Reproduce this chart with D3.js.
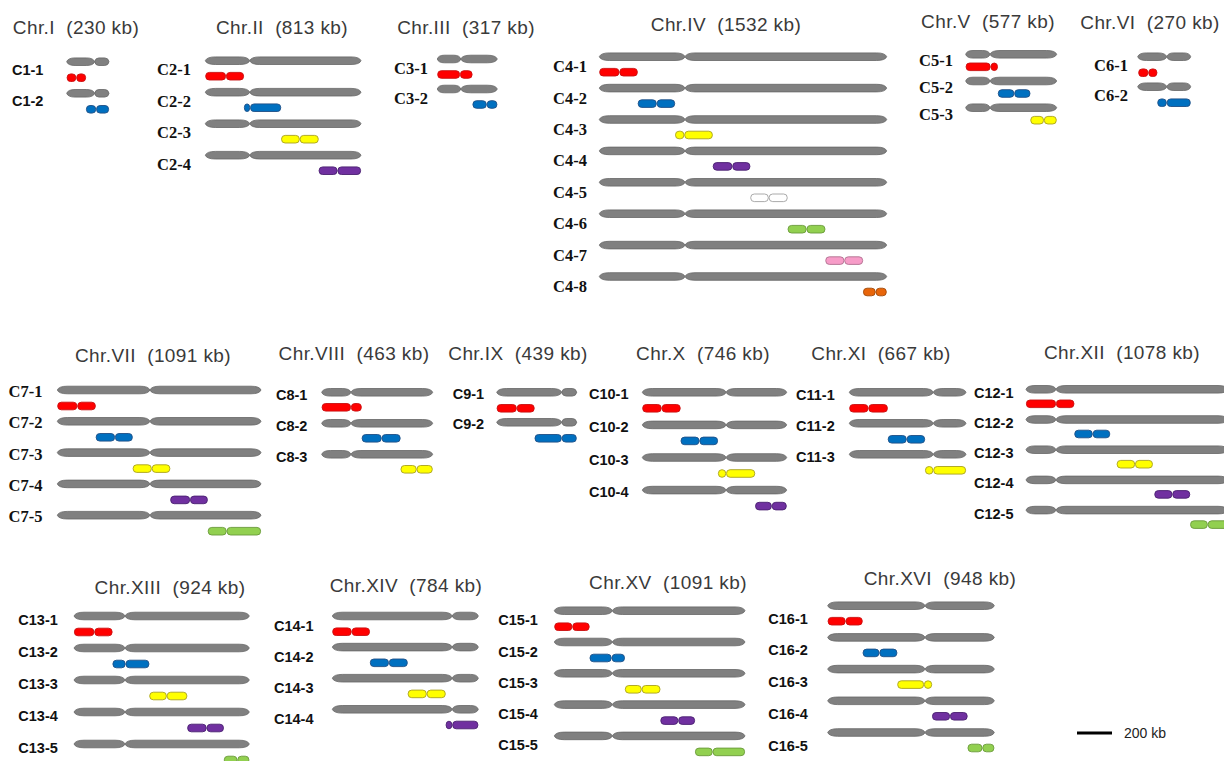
<!DOCTYPE html>
<html>
<head>
<meta charset="utf-8">
<script src="https://cdn.jsdelivr.net/npm/d3@7"></script>
<style>
  body { margin: 0; background: #fff; }
  svg { display: block; }
  .title { font-family: "Liberation Sans", Arial, sans-serif; font-size: 19px; fill: #3a3a3a; white-space: pre; letter-spacing: 0.4px; }
  .lab { font-weight: bold; fill: #111; }
  .lab.sans { font-family: "Liberation Sans", Arial, sans-serif; font-size: 14.5px; }
  .lab.serif { font-family: "Liberation Serif", "Times New Roman", serif; font-size: 16.5px; }
  .bar-text { font-family: "Liberation Sans", Arial, sans-serif; font-size: 14px; fill: #222; }
</style>
</head>
<body>
<div id="chart"></div>
<script>
// chromosome names and sizes (kb)
var chromNames = ["Chr.I", "Chr.II", "Chr.III", "Chr.IV", "Chr.V", "Chr.VI", "Chr.VII", "Chr.VIII",
  "Chr.IX", "Chr.X", "Chr.XI", "Chr.XII", "Chr.XIII", "Chr.XIV", "Chr.XV", "Chr.XVI"];
var chromLengths = [230, 813, 317, 1532, 577, 270, 1091, 463, 439, 746, 667, 1078, 924, 784, 1091, 948];
// centromere positions (kb)
var centromeres = [152, 232, 124, 457, 154, 148, 496, 122, 357, 433, 480, 160, 269, 644, 332, 554];

// fragments (one per strain row), start / end / pinch in kb
var fragStarts = [
  [0, 105], [0, 202, 396, 592], [0, 186], [0, 205, 404, 605, 805, 1004, 1205, 1406],
  [0, 204, 410], [3, 100], [0, 206, 404, 605, 806], [0, 167, 329],
  [0, 208], [0, 198, 391, 583], [0, 220, 433], [0, 258, 484, 685, 876],
  [0, 203, 397, 597, 790], [0, 202, 405, 609], [0, 202, 404, 607, 805], [0, 199, 396, 594, 796]
];
var fragEnds = [
  [105, 230], [202, 396, 592, 813], [186, 317], [205, 404, 605, 805, 1004, 1205, 1406, 1532],
  [204, 410, 577], [100, 270], [206, 404, 605, 806, 1091], [167, 329, 463],
  [208, 439], [198, 391, 583, 746], [220, 433, 667], [258, 449, 677, 876, 1078],
  [203, 397, 597, 790, 924], [202, 405, 609, 784], [202, 404, 607, 805, 1091], [199, 396, 594, 796, 948]
];
var fragPinches = [
  [52, 160], [108, 234, 493, 690], [120, 261], [107, 306, 453, 709, 903, 1105, 1306, 1473],
  [158, 308, 496], [54, 148], [107, 309, 506, 711, 907], [122, 250, 396],
  [110, 357], [100, 295, 433, 669], [109, 328, 480], [160, 356, 582, 781, 970],
  [107, 272, 489, 699, 861], [104, 304, 507, 644], [103, 328, 500, 709, 906], [102, 294, 548, 696, 880]
];
var fragMarkers = [
  ["red", "blue"], ["red", "blue", "yellow", "purple"], ["red", "blue"],
  ["red", "blue", "yellow", "purple", "white", "green", "pink", "orange"],
  ["red", "blue", "yellow"], ["red", "blue"], ["red", "blue", "yellow", "purple", "green"],
  ["red", "blue", "yellow"], ["red", "blue"], ["red", "blue", "yellow", "purple"],
  ["red", "blue", "yellow"], ["red", "blue", "yellow", "purple", "green"],
  ["red", "blue", "yellow", "purple", "green"], ["red", "blue", "yellow", "purple"],
  ["red", "blue", "yellow", "purple", "green"], ["red", "blue", "yellow", "purple", "green"]
];
var scaleBarKb = 200;

// styles
var markerKeys = ["red", "blue", "yellow", "purple", "white", "green", "pink", "orange"];
var markerFill = d3.scaleOrdinal().domain(markerKeys)
  .range(["#ff0000", "#0070c0", "#ffff00", "#7030a0", "#ffffff", "#92d050", "#f79cc8", "#e8650a"]);
var markerStroke = d3.scaleOrdinal().domain(markerKeys)
  .range(["#c81010", "#1f4f86", "#a8a020", "#4a2070", "#a0a0a0", "#6a9a3a", "#b07090", "#a04808"]);

// panel layout (pixels)
var panels = [
  {x0: 66.7, x1: 109, y0: 61.7, dy: 31.6, fdy: 16, lx: 12, ldy: 8, tx: 76, ty: 27, serif: false},
  {x0: 205.3, x1: 361, y0: 60.7, dy: 31.5, fdy: 15.5, lx: 157, ldy: 9, tx: 282, ty: 27, serif: true},
  {x0: 437.3, x1: 497.3, y0: 59, dy: 30, fdy: 15.5, lx: 394, ldy: 9.5, tx: 466, ty: 27, serif: true},
  {x0: 599.3, x1: 886.7, y0: 56.7, dy: 31.4, fdy: 15.5, lx: 553, ldy: 10, tx: 726, ty: 24, serif: true},
  {x0: 965.7, x1: 1056.7, y0: 54.3, dy: 26.7, fdy: 12.5, lx: 919, ldy: 6.5, tx: 988, ty: 21, serif: true},
  {x0: 1137.7, x1: 1190.7, y0: 56.7, dy: 30, fdy: 16, lx: 1094, ldy: 9, tx: 1150, ty: 22, serif: true},
  {x0: 57.3, x1: 261, y0: 390, dy: 31.3, fdy: 16, lx: 8.5, ldy: 1.5, tx: 153, ty: 355, serif: true},
  {x0: 321.7, x1: 432.7, y0: 392.3, dy: 31, fdy: 15, lx: 276, ldy: 3, tx: 354, ty: 353, serif: false},
  {x0: 496.7, x1: 576.7, y0: 392.3, dy: 30, fdy: 16, lx: 452.7, ldy: 1.5, tx: 518, ty: 353, serif: false},
  {x0: 642.3, x1: 786.7, y0: 392.3, dy: 32.6, fdy: 16, lx: 589, ldy: 2, tx: 703, ty: 353, serif: false},
  {x0: 849.3, x1: 966, y0: 392.3, dy: 31, fdy: 16, lx: 796, ldy: 3, tx: 881, ty: 353, serif: false},
  {x0: 1026, x1: 1228, y0: 389.3, dy: 30.2, fdy: 14.5, lx: 974, ldy: 3.5, tx: 1122, ty: 352, serif: false},
  {x0: 74, x1: 249.3, y0: 616, dy: 32, fdy: 16, lx: 18.3, ldy: 4, tx: 170, ty: 587, serif: false},
  {x0: 332.3, x1: 478.3, y0: 616, dy: 31.1, fdy: 15.7, lx: 274, ldy: 9.5, tx: 406, ty: 585, serif: false},
  {x0: 554.3, x1: 745, y0: 610.7, dy: 31.3, fdy: 16, lx: 498.3, ldy: 9.5, tx: 668, ty: 582, serif: false},
  {x0: 827.7, x1: 994.3, y0: 605.7, dy: 31.7, fdy: 15.5, lx: 768.3, ldy: 13, tx: 940, ty: 578, serif: false}
];

var width = 1224, height = 761;
var svg = d3.select("#chart").append("svg")
  .attr("width", width)
  .attr("height", height);
svg.append("rect").attr("width", width).attr("height", height).attr("fill", "#fff");

// one chromosome arm, tapered at both ends
function armPath(a, b, y, h) {
  var r = Math.min(10, (b - a) * 0.3);
  var p = d3.path();
  p.moveTo(a, y);
  p.quadraticCurveTo(a + r * 0.15, y - h, a + r, y - h);
  p.lineTo(b - r, y - h);
  p.quadraticCurveTo(b - r * 0.15, y - h, b, y);
  p.quadraticCurveTo(b - r * 0.15, y + h, b - r, y + h);
  p.lineTo(a + r, y + h);
  p.quadraticCurveTo(a + r * 0.15, y + h, a, y);
  p.closePath();
  return p.toString();
}

chromNames.forEach(function(name, ci) {
  var L = panels[ci];
  var x = d3.scaleLinear().domain([0, chromLengths[ci]]).range([L.x0, L.x1]);
  var g = svg.append("g").attr("class", "panel");

  g.append("text")
    .attr("class", "title")
    .attr("x", L.tx)
    .attr("y", L.ty)
    .attr("text-anchor", "middle")
    .attr("dominant-baseline", "central")
    .text(name + "  (" + chromLengths[ci] + " kb)");

  var rows = fragStarts[ci].map(function(s, j) {
    return {
      label: "C" + (ci + 1) + "-" + (j + 1),
      start: s, end: fragEnds[ci][j], pinch: fragPinches[ci][j],
      marker: fragMarkers[ci][j], y: L.y0 + j * L.dy
    };
  });

  var row = g.selectAll("g.row").data(rows).enter().append("g").attr("class", "row");

  row.append("text")
    .attr("class", "lab " + (L.serif ? "serif" : "sans"))
    .attr("x", L.lx)
    .attr("y", function(d) { return d.y + L.ldy; })
    .attr("dominant-baseline", "central")
    .text(function(d) { return d.label; });

  // gray chromosome, two arms meeting at the centromere
  row.selectAll("path.arm")
    .data(function(d) {
      return [[0, centromeres[ci], d.y], [centromeres[ci], chromLengths[ci], d.y]];
    })
    .enter().append("path")
    .attr("class", "arm")
    .attr("d", function(a) { return armPath(x(a[0]), x(a[1]), a[2], 3.8); })
    .attr("fill", "#808080")
    .attr("stroke", "#666")
    .attr("stroke-width", 0.8);

  // colored fragment, two lobes split at the pinch
  row.selectAll("rect.lobe")
    .data(function(d) {
      return [[d.start, d.pinch, d], [d.pinch, d.end, d]];
    })
    .enter().append("rect")
    .attr("class", "lobe")
    .attr("x", function(a) { return x(a[0]) + 0.4; })
    .attr("y", function(a) { return a[2].y + L.fdy - 3.8; })
    .attr("width", function(a) { return Math.max(1, x(a[1]) - x(a[0]) - 0.8); })
    .attr("height", 7.6)
    .attr("rx", 3.6)
    .attr("fill", function(a) { return markerFill(a[2].marker); })
    .attr("stroke", function(a) { return markerStroke(a[2].marker); })
    .attr("stroke-width", 0.9);
});

// scale bar
var sb = d3.scaleLinear().domain([0, scaleBarKb]).range([1077, 1112]);
svg.append("line")
  .attr("x1", sb(0)).attr("x2", sb(scaleBarKb))
  .attr("y1", 733).attr("y2", 733)
  .attr("stroke", "#000")
  .attr("stroke-width", 3);
svg.append("text")
  .attr("class", "bar-text")
  .attr("x", sb(scaleBarKb) + 12)
  .attr("y", 733)
  .attr("dominant-baseline", "central")
  .text(scaleBarKb + " kb");
</script>
</body>
</html>
